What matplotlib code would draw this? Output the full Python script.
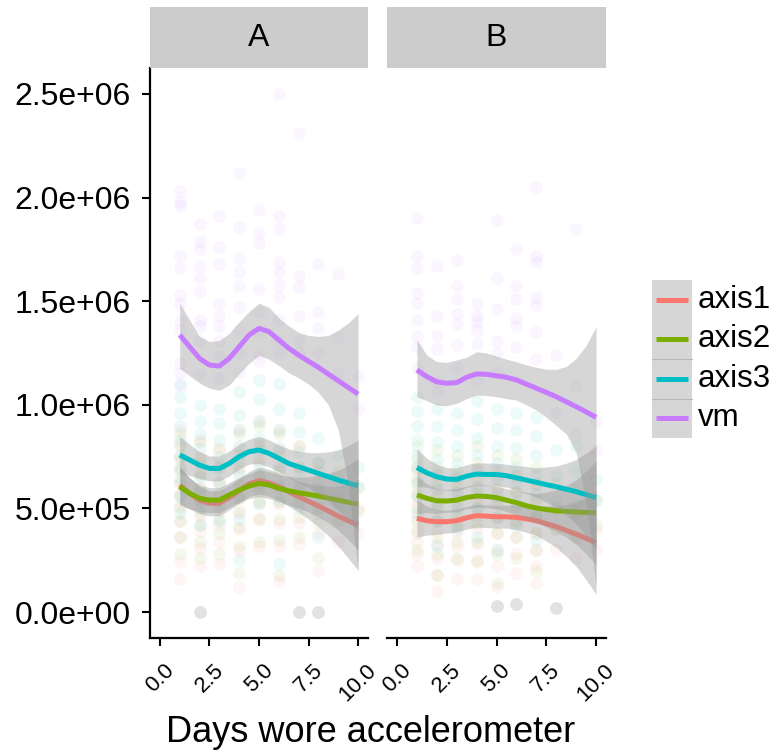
import matplotlib
matplotlib.use("Agg")
import matplotlib.pyplot as plt
from matplotlib.patches import Rectangle
from matplotlib.lines import Line2D
from matplotlib.ticker import FuncFormatter

plt.rcParams['font.family'] = ['Liberation Sans', 'DejaVu Sans']

series = ["axis1", "axis2", "axis3", "vm"]
colors = ["#F8766D", "#7CAE00", "#00BFC4", "#C77CFF"]
panels = ["A", "B"]
days = [1, 2, 3, 4, 5, 6, 7, 8, 9, 10]

# smooth curves, read at half-day steps (values x 1e5)
smooth_x = [1, 1.5, 2, 2.5, 3, 3.5, 4, 4.5, 5, 5.5, 6, 6.5, 7, 7.5, 8, 8.5, 9, 9.5, 10]

a_axis1_fit = [6.13, 5.73, 5.40, 5.25, 5.25, 5.53, 5.85, 6.18, 6.34, 6.24, 6.05, 5.81, 5.57, 5.34, 5.12, 4.88, 4.63, 4.41, 4.20]
a_axis2_fit = [6.05, 5.73, 5.49, 5.40, 5.40, 5.65, 5.89, 6.08, 6.21, 6.13, 5.97, 5.85, 5.76, 5.68, 5.60, 5.50, 5.40, 5.30, 5.21]
a_axis3_fit = [7.58, 7.34, 7.09, 6.93, 6.93, 7.17, 7.50, 7.74, 7.82, 7.66, 7.42, 7.17, 7.01, 6.85, 6.69, 6.53, 6.37, 6.23, 6.10]
a_vm_fit = [13.37, 12.80, 12.24, 11.92, 11.87, 12.24, 12.80, 13.37, 13.69, 13.53, 13.13, 12.73, 12.40, 12.10, 11.81, 11.48, 11.16, 10.84, 10.52]
a_vm_hi = [14.90, 14.10, 13.30, 13.05, 13.10, 13.45, 14.00, 14.50, 14.90, 14.70, 14.20, 13.80, 13.50, 13.35, 13.30, 13.35, 13.60, 13.95, 14.40]
a_vm_lo = [11.76, 11.40, 11.05, 10.80, 10.70, 10.95, 11.50, 12.00, 12.40, 12.20, 11.90, 11.55, 11.30, 11.00, 10.60, 10.00, 8.80, 6.20, 2.00]
a_axis_se = [0.90, 0.75, 0.65, 0.60, 0.60, 0.60, 0.60, 0.60, 0.65, 0.65, 0.65, 0.70, 0.75, 0.85, 1.00, 1.20, 1.45, 1.80, 2.20]

b_axis1_fit = [4.52, 4.41, 4.36, 4.36, 4.41, 4.55, 4.65, 4.63, 4.60, 4.60, 4.57, 4.50, 4.41, 4.27, 4.12, 3.94, 3.76, 3.56, 3.35]
b_axis2_fit = [5.65, 5.49, 5.37, 5.36, 5.40, 5.53, 5.60, 5.58, 5.52, 5.40, 5.28, 5.13, 5.02, 4.95, 4.89, 4.86, 4.83, 4.81, 4.79]
b_axis3_fit = [6.97, 6.72, 6.53, 6.42, 6.40, 6.56, 6.66, 6.64, 6.64, 6.58, 6.48, 6.37, 6.26, 6.15, 6.05, 5.93, 5.81, 5.67, 5.52]
b_vm_fit = [11.68, 11.36, 11.11, 11.04, 11.07, 11.33, 11.49, 11.47, 11.40, 11.33, 11.20, 11.00, 10.80, 10.60, 10.39, 10.15, 9.91, 9.66, 9.40]
b_vm_hi = [13.13, 12.40, 12.08, 12.05, 12.16, 12.30, 12.56, 12.50, 12.35, 12.20, 12.08, 11.92, 11.81, 11.72, 11.71, 11.85, 12.24, 12.85, 13.77]
b_vm_lo = [10.39, 10.20, 9.99, 9.95, 10.07, 10.30, 10.47, 10.45, 10.39, 10.30, 10.23, 10.00, 9.75, 9.40, 9.00, 8.60, 7.70, 5.30, 1.20]
b_axis_se = [0.90, 0.70, 0.60, 0.55, 0.55, 0.55, 0.55, 0.55, 0.55, 0.55, 0.60, 0.65, 0.70, 0.85, 1.00, 1.25, 1.55, 2.00, 2.50]

# raw points per day 1..10 (values x 1e5)
a_axis1_pts = [[8.8, 8.1, 7.5, 6.9, 6.3, 5.7, 5.1, 4.4, 3.6, 2.4, 1.6],
               [8.3, 7.5, 6.7, 6.0, 5.3, 4.6, 3.9, 3.1, 2.2, 0.0],
               [7.9, 7.1, 6.3, 5.6, 4.9, 4.2, 3.4, 2.3],
               [8.8, 7.9, 7.0, 6.2, 5.5, 4.8, 4.0, 3.0, 1.2],
               [9.2, 8.2, 7.4, 6.6, 6.0, 5.3, 4.5, 3.2],
               [8.8, 7.8, 6.9, 6.1, 5.2, 4.3, 3.2, 1.5],
               [8.0, 7.0, 6.0, 5.2, 4.3, 3.3, 0.0],
               [6.8, 5.8, 4.8, 3.8, 2.0, 0.0],
               [5.6, 4.5, 3.4],
               [5.0, 3.8]]
a_axis2_pts = [[8.6, 8.0, 7.4, 6.8, 6.2, 5.6, 5.0, 4.4, 3.6, 2.8],
               [8.2, 7.4, 6.6, 6.0, 5.4, 4.8, 4.2, 3.4, 2.6, 0.0],
               [7.8, 7.0, 6.3, 5.7, 5.1, 4.5, 3.8, 2.8],
               [8.6, 7.6, 6.8, 6.1, 5.5, 4.9, 4.1, 3.2, 1.9],
               [9.0, 8.0, 7.2, 6.5, 5.9, 5.3, 4.5, 3.4],
               [8.6, 7.6, 6.8, 6.0, 5.3, 4.5, 3.5, 1.8],
               [8.0, 7.0, 6.2, 5.5, 4.6, 3.6, 0.0],
               [7.2, 6.3, 5.2, 4.3, 2.6, 0.0],
               [6.8, 5.4, 4.4],
               [6.0, 4.9]]
a_axis3_pts = [[11.0, 10.4, 9.6, 9.0, 8.3, 7.6, 7.0, 6.4, 5.6, 4.8],
               [10.0, 9.2, 8.6, 7.9, 7.2, 6.5, 5.8, 5.0, 4.2, 0.0],
               [9.8, 9.1, 8.3, 7.5, 6.9, 6.2, 5.3, 4.4],
               [10.6, 9.5, 8.8, 8.0, 7.3, 6.6, 5.6, 4.5, 2.5],
               [11.2, 10.3, 9.2, 8.4, 7.8, 7.0, 6.2, 5.2],
               [11.0, 9.8, 8.8, 7.9, 7.0, 6.2, 5.4, 2.3],
               [9.6, 8.7, 7.7, 6.8, 6.0, 5.0, 0.0],
               [8.4, 7.2, 6.0, 5.0, 3.6, 0.0],
               [7.6, 6.4, 5.1],
               [7.0, 6.1]]
a_vm_pts = [[20.3, 19.8, 19.6, 17.2, 16.6, 15.3, 14.85, 14.05, 13.6, 12.0, 11.55, 10.9],
            [18.7, 17.9, 17.5, 16.7, 16.1, 15.5, 14.1, 13.8, 13.1, 11.5, 0.0],
            [19.1, 17.6, 16.8, 14.85, 14.3, 13.8, 13.1, 12.35, 11.3],
            [21.2, 18.6, 17.1, 16.4, 15.75, 14.7, 13.6, 12.5, 11.6],
            [19.4, 18.3, 17.8, 15.6, 14.5, 13.4, 12.5, 12.1],
            [25.0, 19.1, 18.5, 16.9, 16.4, 15.8, 15.2, 14.1, 13.1, 12.5],
            [23.1, 16.2, 15.7, 14.3, 13.1, 12.5, 0.0],
            [16.8, 14.5, 13.7, 12.5, 0.0],
            [16.3, 13.25, 11.5],
            [11.4, 9.8]]

b_axis1_pts = [[7.0, 6.4, 5.8, 5.2, 4.6, 4.0, 3.4, 2.8, 2.2],
               [6.6, 5.9, 5.2, 4.5, 3.9, 3.3, 2.6, 1.8, 1.0],
               [6.4, 5.8, 5.1, 4.4, 3.8, 3.2, 2.5, 1.6],
               [6.9, 6.1, 5.4, 4.7, 4.0, 3.3, 2.5, 1.6],
               [6.6, 5.9, 5.2, 4.5, 3.8, 3.0, 2.2, 1.2, 0.3],
               [6.5, 5.8, 5.0, 4.3, 3.6, 2.8, 1.9, 0.4],
               [6.2, 5.4, 4.6, 3.8, 3.0, 2.2, 1.4],
               [5.0, 4.0, 3.0, 0.2],
               [4.8, 3.6, 2.6],
               [4.0, 3.0]]
b_axis2_pts = [[8.0, 7.4, 6.8, 6.2, 5.6, 5.0, 4.4, 3.8, 3.0],
               [7.8, 7.0, 6.3, 5.6, 5.0, 4.4, 3.6, 2.8, 1.8],
               [7.6, 6.8, 6.1, 5.4, 4.8, 4.2, 3.4, 2.6],
               [8.0, 7.2, 6.4, 5.7, 5.0, 4.3, 3.4, 2.4],
               [7.6, 6.8, 6.0, 5.3, 4.6, 3.8, 2.8, 1.4, 0.3],
               [7.4, 6.6, 5.8, 5.1, 4.4, 3.6, 2.6, 0.4],
               [7.0, 6.2, 5.4, 4.6, 3.8, 3.0, 2.0],
               [6.2, 5.0, 4.0, 0.2],
               [6.0, 4.8, 3.6],
               [5.4, 4.2]]
b_axis3_pts = [[10.4, 9.7, 9.0, 8.3, 7.6, 7.0, 6.3, 5.6, 4.8],
               [9.8, 9.0, 8.2, 7.4, 6.7, 6.0, 5.2, 4.4, 3.2],
               [9.6, 8.8, 8.0, 7.2, 6.5, 5.8, 5.0, 4.0],
               [10.2, 9.3, 8.4, 7.6, 6.8, 6.0, 5.0, 3.6],
               [9.8, 8.9, 8.0, 7.2, 6.4, 5.6, 4.6, 3.0, 0.3],
               [9.6, 8.8, 7.9, 7.0, 6.2, 5.3, 4.2, 0.4],
               [9.4, 8.5, 7.6, 6.6, 5.7, 4.6, 3.5],
               [7.8, 6.6, 5.4, 0.2],
               [8.0, 6.8, 5.2],
               [6.4, 5.4]]
b_vm_pts = [[19.0, 17.2, 16.6, 15.4, 14.9, 14.1, 13.3, 12.8, 11.8],
            [16.7, 14.3, 13.3, 12.7, 11.1, 10.6],
            [17.0, 15.75, 15.1, 14.4, 13.9, 12.9, 11.8],
            [14.85, 14.3, 14.0, 13.6, 13.0, 11.2],
            [18.9, 16.1, 14.6, 13.1, 12.5, 11.6, 0.3],
            [17.5, 15.75, 15.1, 14.2, 13.8, 12.8, 0.4],
            [20.5, 17.2, 16.9, 15.2, 14.8, 13.5, 12.2],
            [12.4, 9.6, 0.2],
            [18.5, 10.9, 8.6],
            [9.2, 7.8]]

fits = {"A": [a_axis1_fit, a_axis2_fit, a_axis3_fit, a_vm_fit],
        "B": [b_axis1_fit, b_axis2_fit, b_axis3_fit, b_vm_fit]}
vm_band = {"A": (a_vm_lo, a_vm_hi), "B": (b_vm_lo, b_vm_hi)}
axis_se = {"A": a_axis_se, "B": b_axis_se}
points = {"A": [a_axis1_pts, a_axis2_pts, a_axis3_pts, a_vm_pts],
          "B": [b_axis1_pts, b_axis2_pts, b_axis3_pts, b_vm_pts]}

SC = 1e5
W, H = 777, 754
fig = plt.figure(figsize=(W / 100, H / 100), dpi=100)


def fbox(x0, y0, x1, y1):
    # pixel box (top-left origin) -> figure fraction rect
    return [x0 / W, 1 - y1 / H, (x1 - x0) / W, (y1 - y0) / H]


panel_px = {"A": (150, 368), "B": (387, 606)}
for p in panels:
    x0, x1 = panel_px[p]
    ax = fig.add_axes(fbox(x0, 68, x1, 638))
    for s_i, name in enumerate(series):
        for d, vals in zip(days, points[p][s_i]):
            ax.scatter([d] * len(vals), [v * SC for v in vals], s=85,
                       color=colors[s_i], alpha=0.07, linewidths=0, zorder=1)
    for s_i, name in enumerate(series):
        fit = [v * SC for v in fits[p][s_i]]
        if name == "vm":
            lo = [v * SC for v in vm_band[p][0]]
            hi = [v * SC for v in vm_band[p][1]]
        else:
            lo = [f - e * SC for f, e in zip(fit, axis_se[p])]
            hi = [f + e * SC for f, e in zip(fit, axis_se[p])]
        ax.fill_between(smooth_x, lo, hi, color="#999999", alpha=0.4,
                        linewidth=0, zorder=2)
        ax.plot(smooth_x, fit, color=colors[s_i], lw=3.6, zorder=2,
                solid_capstyle="butt")
    ax.set_xlim(-0.5, 10.5)
    ax.set_ylim(-1.25e5, 2.625e6)
    ax.set_xticks([0, 2.5, 5, 7.5, 10])
    ax.set_xticklabels(["0.0", "2.5", "5.0", "7.5", "10.0"], rotation=45,
                       ha="center", va="top")
    ax.tick_params(axis="x", labelsize=16, length=5.5, width=1.5, pad=10)
    for sp in ["top", "right"]:
        ax.spines[sp].set_visible(False)
    ax.spines["bottom"].set_linewidth(1.6)
    ax.spines["left"].set_linewidth(1.6)
    if p == "A":
        ax.set_yticks([0, 5e5, 1e6, 1.5e6, 2e6, 2.5e6])
        ax.yaxis.set_major_formatter(FuncFormatter(lambda v, pos: f"{v:.1e}"))
        ax.tick_params(axis="y", labelsize=23, length=5.8, width=1.5, pad=8)
    else:
        ax.spines["left"].set_visible(False)
        ax.set_yticks([])
    # facet strip
    st = fig.add_axes(fbox(x0, 7, x1, 68))
    st.set_facecolor("#CCCCCC")
    st.set_xticks([])
    st.set_yticks([])
    for sp in st.spines.values():
        sp.set_visible(False)
    st.text(0.5, 0.5, p, ha="center", va="center", fontsize=23,
            transform=st.transAxes)

# legend
key_top, key_h = 280, 39.5
for s_i, name in enumerate(series):
    yt = key_top + s_i * key_h
    fig.add_artist(Rectangle((652 / W, 1 - (yt + key_h) / H), 40 / W, key_h / H,
                             transform=fig.transFigure, facecolor="#D6D6D6",
                             edgecolor="none"))
    yc = 1 - (yt + key_h / 2) / H
    fig.add_artist(Line2D([656 / W, 688 / W], [yc, yc], color=colors[s_i],
                          lw=3.6, transform=fig.transFigure,
                          solid_capstyle="butt"))
    fig.text(698 / W, yc, name, fontsize=22.5, va="center", ha="left")
for s_i in (2, 3):
    yb = 1 - (key_top + s_i * key_h) / H
    fig.add_artist(Line2D([652 / W, 692 / W], [yb, yb], color="#B8B8B8",
                          lw=0.8, transform=fig.transFigure))

fig.text(371 / W, 1 - 733 / H, "Days wore accelerometer", fontsize=26,
         ha="center", va="center")

fig.savefig("out.png", dpi=100)
